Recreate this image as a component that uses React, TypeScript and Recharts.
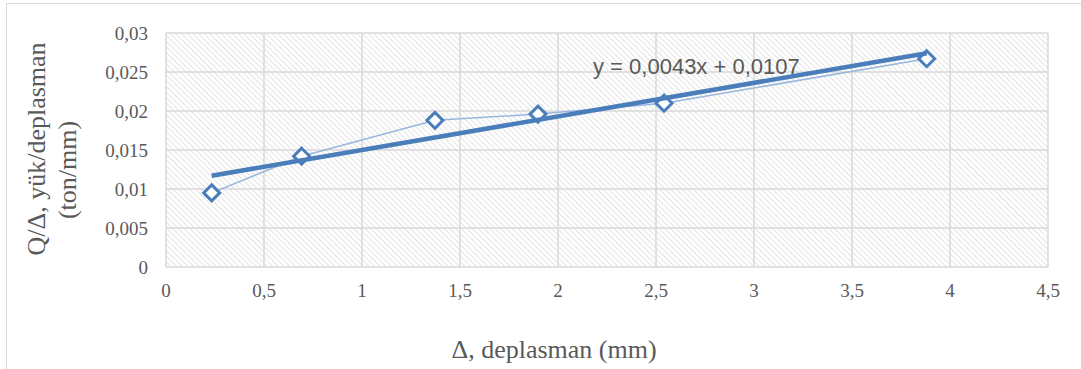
import { ComposedChart, Scatter, XAxis, YAxis, CartesianGrid, Label } from "recharts";

// measured points (Δ in mm, Q/Δ in ton/mm)
const deflection = [0.233, 0.692, 1.372, 1.898, 2.541, 3.881];
const stiffness = [0.0095, 0.0142, 0.0188, 0.0196, 0.021, 0.0267];

// linear trendline end points (y = 0,0043x + 0,0107)
const trendX = [0.233, 3.881];
const trendY = [0.0117, 0.0274];
const equation = "y = 0,0043x + 0,0107";

const xTicks = [0, 0.5, 1, 1.5, 2, 2.5, 3, 3.5, 4, 4.5];
const yTicks = [0, 0.005, 0.01, 0.015, 0.02, 0.025, 0.03];

const BLUE = "#4a7ebb";
const LIGHT_BLUE = "#9ab6de";
const GRID = "#d9d9d9";
const TEXT = "#595959";
const SERIF = "'Liberation Serif', 'Times New Roman', serif";

const points = deflection.map((x, i) => ({ x, y: stiffness[i] }));
const trend = trendX.map((x, i) => ({ x, y: trendY[i] }));

const fmt = (v: number) => String(v).replace(".", ",");

function Diamond(props: any) {
  const { cx, cy } = props;
  if (cx == null || cy == null) return <g />;
  const r = 8;
  return (
    <path
      d={`M${cx},${cy - r} L${cx + r},${cy} L${cx},${cy + r} L${cx - r},${cy} Z`}
      fill="#ffffff"
      stroke={BLUE}
      strokeWidth={3}
      strokeLinejoin="miter"
    />
  );
}

const noDot = () => <g />;

export default function App() {
  return (
    <div style={{ position: "absolute", left: 0, top: 0, width: 1081, height: 369, background: "#fff", overflow: "hidden" }}>
      <div
        style={{
          position: "absolute",
          left: 6,
          top: 3,
          width: 1100,
          height: 400,
          borderLeft: `1px solid ${GRID}`,
          borderTop: `1px solid ${GRID}`,
        }}
      />
      <ComposedChart width={1081} height={369} margin={{ top: 33, right: 33, bottom: 0, left: 0 }}>
        <defs>
          <pattern id="hatch" width="4" height="4" patternUnits="userSpaceOnUse" patternTransform="rotate(-45)">
            <rect width="4" height="4" fill="#ffffff" />
            <line x1="0" y1="0" x2="0" y2="4" stroke="#dcdcdc" strokeWidth="1.6" />
          </pattern>
        </defs>
        <CartesianGrid
          fill="url(#hatch)"
          fillOpacity={1}
          stroke={GRID}
          strokeWidth={1.5}
          horizontalValues={yTicks}
          verticalValues={xTicks}
        />
        <XAxis
          type="number"
          dataKey="x"
          domain={[0, 4.5]}
          ticks={xTicks}
          interval={0}
          tickFormatter={fmt}
          axisLine={false}
          tickLine={false}
          tickSize={0}
          tickMargin={17}
          height={102}
          tick={{ fill: TEXT, fontSize: 19, fontFamily: SERIF }}
          allowDataOverflow
        >
          <Label
            content={() => (
              <text x={554} y={358} textAnchor="middle" fill={TEXT} fontSize={26} fontFamily={SERIF}>
                Δ, deplasman (mm)
              </text>
            )}
          />
        </XAxis>
        <YAxis
          type="number"
          dataKey="y"
          domain={[0, 0.03]}
          ticks={yTicks}
          interval={0}
          tickFormatter={fmt}
          axisLine={false}
          tickLine={false}
          tickSize={0}
          tickMargin={18}
          width={166}
          tick={{ fill: TEXT, fontSize: 19, fontFamily: SERIF }}
          allowDataOverflow
        >
          <Label
            content={() => (
              <g fill={TEXT} fontSize={26} fontFamily={SERIF}>
                <text x={45} y={149} textAnchor="middle" transform="rotate(-90 45 149)">
                  Q/Δ, yük/deplasman
                </text>
                <text x={76} y={170} textAnchor="middle" transform="rotate(-90 76 170)">
                  (ton/mm)
                </text>
              </g>
            )}
          />
        </YAxis>
        <Scatter
          data={points}
          line={{ stroke: LIGHT_BLUE, strokeWidth: 1.5 }}
          lineType="joint"
          shape={Diamond}
          isAnimationActive={false}
        />
        <Scatter
          data={trend}
          line={{ stroke: BLUE, strokeWidth: 4.5 }}
          lineType="joint"
          shape={noDot}
          isAnimationActive={false}
        />
      </ComposedChart>
      <svg width={1081} height={369} style={{ position: "absolute", left: 0, top: 0, pointerEvents: "none" }}>
        <text x={593} y={74} fill={TEXT} fontSize={22} fontFamily="'Liberation Sans', Arial, sans-serif">
          {equation}
        </text>
      </svg>
    </div>
  );
}
